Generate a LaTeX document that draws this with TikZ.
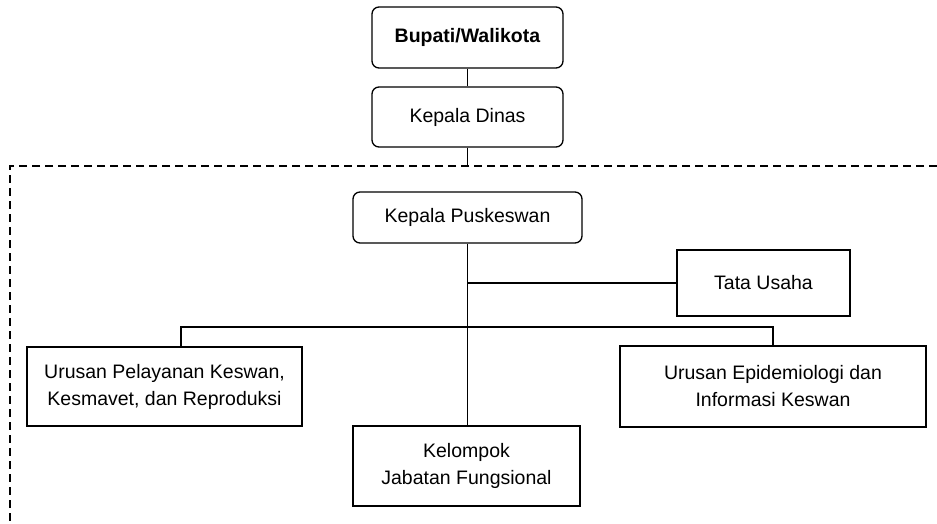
\documentclass[tikz,border=0pt]{standalone}
\usepackage{fontspec}
\setmainfont{Liberation Sans}
\usetikzlibrary{arrows}

\begin{document}
\begin{tikzpicture}[x=1pt,y=-1pt,
  line width=1.3pt,
  roundbox/.style={draw, rounded corners=7pt, align=center, inner sep=0pt},
  plainbox/.style={draw, align=center, inner sep=0pt},
  every node/.style={font=\fontsize{19.5}{27}\selectfont}]
\useasboundingbox (0,0) rectangle (937,523);
% top boxes
\node[roundbox, minimum width=191pt, minimum height=61pt] (bupati) at (467.5,37.5) {\textbf{Bupati/Walikota}};
\node[roundbox, minimum width=191pt, minimum height=60pt] (dinas) at (467.5,117) {Kepala Dinas};
\node[roundbox, minimum width=229pt, minimum height=51pt] (puskeswan) at (467.5,217.5) {Kepala Puskeswan};
% lower boxes
\node[plainbox, minimum width=173pt, minimum height=66pt] (tu) at (763.5,283) {Tata Usaha};
\node[plainbox, minimum width=275pt, minimum height=79pt] (pelayanan) at (164.5,386.5) {Urusan Pelayanan Keswan,\\Kesmavet, dan Reproduksi};
\node[plainbox, minimum width=306pt, minimum height=81pt] (epid) at (773,386.5) {Urusan Epidemiologi dan\\Informasi Keswan};
\node[plainbox, minimum width=227pt, minimum height=80pt] (jafung) at (466.5,466) {Kelompok\\Jabatan Fungsional};
% dashed frame
\coordinate (cut) at (467.5,166);
\draw[dashed, dash pattern=on 8pt off 5pt] (937,166) -- (10,166) -- (10,523);
% connectors
\draw (bupati) -- (dinas);
\draw (dinas) -- (cut);
\draw (puskeswan.south) -- (puskeswan.south |- jafung.north);
\draw (puskeswan.south |- tu.west) -- (tu.west);
\coordinate (bl) at (181,327);
\coordinate (br) at (773,327);
\draw (bl |- pelayanan.north) -- (bl) -- (br) -- (epid.north);
\end{tikzpicture}
\end{document}
